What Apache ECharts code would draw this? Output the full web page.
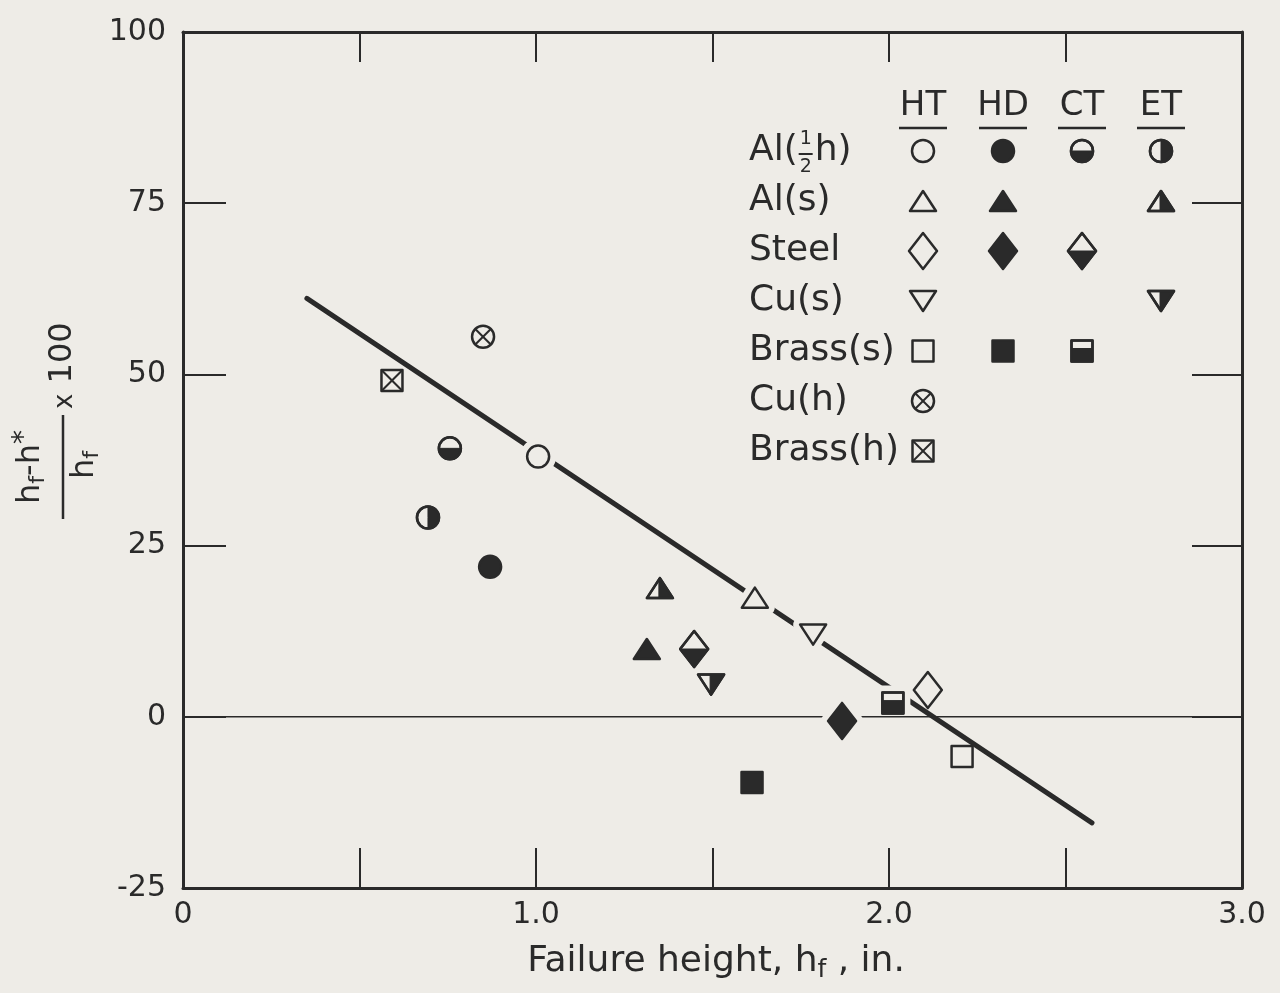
<!DOCTYPE html>
<html>
<head>
<meta charset="utf-8">
<title>Failure height</title>
<script src="https://cdn.jsdelivr.net/npm/echarts@6/dist/echarts.min.js"></script>
<style>
html, body { margin: 0; padding: 0; background: #eeece7; }
#chart { width: 1280px; height: 993px; }
</style>
</head>
<body>
<div id="chart"></div>
<script>
// legend rows (materials) and legend columns (test types)
var MATERIALS = ['Al(1/2h)', 'Al(s)', 'Steel', 'Cu(s)', 'Brass(s)', 'Cu(h)', 'Brass(h)'];
var TESTS = ['HT', 'HD', 'CT', 'ET'];

// [failure height hf (in.), (hf - h*)/hf x 100, material]
var HT_POINTS = [
    [1.006, 38.0, 'Al(1/2h)'],
    [1.620, 17.4, 'Al(s)'],
    [2.110, 3.9, 'Steel'],
    [1.785, 12.0, 'Cu(s)'],
    [2.207, -5.8, 'Brass(s)'],
    [0.850, 55.5, 'Cu(h)'],
    [0.592, 49.1, 'Brass(h)']
];
var HD_POINTS = [
    [0.870, 21.9, 'Al(1/2h)'],
    [1.314, 9.9, 'Al(s)'],
    [1.867, -0.6, 'Steel'],
    [1.612, -9.6, 'Brass(s)']
];
var CT_POINTS = [
    [0.756, 39.2, 'Al(1/2h)'],
    [1.448, 9.9, 'Steel'],
    [2.011, 2.0, 'Brass(s)']
];
var ET_POINTS = [
    [0.694, 29.1, 'Al(1/2h)'],
    [1.351, 18.8, 'Al(s)'],
    [1.496, 4.7, 'Cu(s)']
];
var FIT_LINE = [[0.351, 61.1], [2.575, -15.5]];
var ZERO_LINE = [[0, 0], [3, 0]];
var X_TICK_LABELS = { 0: '0', 1: '1.0', 2: '2.0', 3: '3.0' };

var INK = '#2a2a2a';
var PAPER = '#eeece7';
var FONT = 'DejaVu Sans';
// symbol shape of each material, same order as MATERIALS
var SHAPE = ['circle', 'triUp', 'diamond', 'triDown', 'square', 'circleX', 'squareX'];

var chart = echarts.init(document.getElementById('chart'));

function outline(kind, cx, cy) {
    switch (kind) {
        case 'circle':
        case 'circleX':
            return { type: 'circle', shape: { cx: cx, cy: cy, r: 11 } };
        case 'triUp':
            return { type: 'polygon', shape: { points: [[cx, cy - 10], [cx + 13, cy + 10], [cx - 13, cy + 10]] } };
        case 'triDown':
            return { type: 'polygon', shape: { points: [[cx - 13, cy - 10], [cx + 13, cy - 10], [cx, cy + 10]] } };
        case 'diamond':
            return { type: 'polygon', shape: { points: [[cx, cy - 18], [cx + 14, cy], [cx, cy + 18], [cx - 14, cy]] } };
        default:
            return { type: 'rect', shape: { x: cx - 10.5, y: cy - 10.5, width: 21, height: 21 } };
    }
}

// CT = lower half dark, ET = right half dark
function halfPart(kind, test, cx, cy) {
    if (test === 'CT') {
        if (kind === 'circle') return { type: 'sector', shape: { cx: cx, cy: cy, r: 11, r0: 0, startAngle: 0, endAngle: Math.PI } };
        if (kind === 'diamond') return { type: 'polygon', shape: { points: [[cx - 14, cy], [cx + 14, cy], [cx, cy + 18]] } };
        if (kind === 'square') return { type: 'rect', shape: { x: cx - 10.5, y: cy - 2.5, width: 21, height: 13 } };
    }
    if (test === 'ET') {
        if (kind === 'circle') return { type: 'sector', shape: { cx: cx, cy: cy, r: 11, r0: 0, startAngle: -Math.PI / 2, endAngle: Math.PI / 2 } };
        if (kind === 'triUp') return { type: 'polygon', shape: { points: [[cx - 1, cy - 10], [cx + 13, cy + 10], [cx - 1, cy + 10]] } };
        if (kind === 'triDown') return { type: 'polygon', shape: { points: [[cx - 1, cy - 10], [cx + 13, cy - 10], [cx - 1, cy + 10]] } };
    }
    return null;
}

function symbolParts(kind, test, cx, cy) {
    var out = [];
    var base = outline(kind, cx, cy);
    base.style = { fill: test === 'HD' ? INK : PAPER, stroke: INK, lineWidth: 2.5, lineJoin: 'round' };
    out.push(base);
    var half = halfPart(kind, test, cx, cy);
    if (half) {
        half.style = { fill: INK, stroke: INK, lineWidth: 1 };
        out.push(half);
        var edge = outline(kind, cx, cy);
        edge.style = { fill: null, stroke: INK, lineWidth: 2.5, lineJoin: 'round' };
        out.push(edge);
    }
    if (kind === 'circleX') {
        var k = 7.5;
        out.push({ type: 'line', shape: { x1: cx - k, y1: cy - k, x2: cx + k, y2: cy + k }, style: { stroke: INK, lineWidth: 2 } });
        out.push({ type: 'line', shape: { x1: cx - k, y1: cy + k, x2: cx + k, y2: cy - k }, style: { stroke: INK, lineWidth: 2 } });
    }
    if (kind === 'squareX') {
        var q = 10;
        out.push({ type: 'line', shape: { x1: cx - q, y1: cy - q, x2: cx + q, y2: cy + q }, style: { stroke: INK, lineWidth: 2 } });
        out.push({ type: 'line', shape: { x1: cx - q, y1: cy + q, x2: cx + q, y2: cy - q }, style: { stroke: INK, lineWidth: 2 } });
    }
    return out;
}

function toData(points) {
    return points.map(function (p) { return [p[0], p[1], MATERIALS.indexOf(p[2])]; });
}

function markerSeries(points, test) {
    return {
        type: 'custom',
        name: test,
        z: 5,
        data: toData(points),
        encode: { x: 0, y: 1 },
        renderItem: function (params, api) {
            var c = api.coord([api.value(0), api.value(1)]);
            return { type: 'group', children: symbolParts(SHAPE[api.value(2)], test, c[0], c[1]) };
        }
    };
}

function distToSegment(p, a, b) {
    var dx = b[0] - a[0], dy = b[1] - a[1];
    var t = ((p[0] - a[0]) * dx + (p[1] - a[1]) * dy) / (dx * dx + dy * dy);
    t = Math.max(0, Math.min(1, t));
    var x = a[0] + t * dx - p[0], y = a[1] + t * dy - p[1];
    return Math.sqrt(x * x + y * y);
}

// paper coloured gap round the marks that sit on a drawn line
function haloSeries(linePts, z) {
    var all = toData(HT_POINTS.concat(HD_POINTS, CT_POINTS, ET_POINTS));
    return {
        type: 'custom',
        z: z,
        silent: true,
        data: all,
        encode: { x: 0, y: 1 },
        renderItem: function (params, api) {
            var c = api.coord([api.value(0), api.value(1)]);
            var d = distToSegment(c, api.coord(linePts[0]), api.coord(linePts[1]));
            if (d > 12) return { type: 'group', children: [] };
            var o = outline(SHAPE[api.value(2)], c[0], c[1]);
            o.style = { fill: PAPER, stroke: PAPER, lineWidth: 14, lineJoin: 'round' };
            return o;
        }
    };
}

// text pieces laid one after another (for subscripts etc.)
var measureCtx = document.createElement('canvas').getContext('2d');
function fontOf(size) { return size + 'px "' + FONT + '"'; }
function textWidth(s, size) {
    measureCtx.font = fontOf(size);
    return measureCtx.measureText(s).width;
}
function textRun(parts, x, y, align) {
    var total = 0;
    parts.forEach(function (p) { total += textWidth(p[0], p[1]); });
    var cx = align === 'center' ? x - total / 2 : x;
    return parts.map(function (p) {
        var el = {
            type: 'text', x: cx, y: y + (p[2] || 0),
            style: { text: p[0], font: fontOf(p[1]), fill: INK, align: 'left', verticalAlign: 'middle' }
        };
        cx += textWidth(p[0], p[1]);
        return el;
    });
}

// legend table
var COL_X = [923, 1003, 1082, 1161];
var BY_TEST = { HT: HT_POINTS, HD: HD_POINTS, CT: CT_POINTS, ET: ET_POINTS };
var legendEls = [];
TESTS.forEach(function (t, j) {
    legendEls = legendEls.concat(textRun([[t, 34]], COL_X[j], 106, 'center'));
    legendEls.push({ type: 'line', shape: { x1: COL_X[j] - 24, y1: 128, x2: COL_X[j] + 24, y2: 128 }, style: { stroke: INK, lineWidth: 2.5 } });
});
MATERIALS.forEach(function (m, i) {
    var rowY = 151 + i * 50;
    if (m === 'Al(1/2h)') {
        legendEls = legendEls.concat(textRun([['Al(', 36]], 749, rowY, 'left'));
        var fx = 749 + textWidth('Al(', 36) + 1;
        legendEls = legendEls.concat(textRun([['1', 19]], fx + 7, rowY - 12, 'center'));
        legendEls.push({ type: 'line', shape: { x1: fx, y1: rowY + 3, x2: fx + 14, y2: rowY + 3 }, style: { stroke: INK, lineWidth: 2 } });
        legendEls = legendEls.concat(textRun([['2', 19]], fx + 7, rowY + 16, 'center'));
        legendEls = legendEls.concat(textRun([['h)', 36]], fx + 16, rowY, 'left'));
    } else {
        legendEls = legendEls.concat(textRun([[m, 36]], 749, rowY, 'left'));
    }
    TESTS.forEach(function (t, j) {
        var has = BY_TEST[t].some(function (p) { return p[2] === m; });
        if (has) legendEls = legendEls.concat(symbolParts(SHAPE[i], t, COL_X[j], rowY));
    });
});

// y axis title: (hf - h*)/hf x 100, turned to read upwards
var yTitle = [
    { type: 'line', shape: { x1: -52, y1: 0, x2: 52, y2: 0 }, style: { stroke: INK, lineWidth: 2.5 } }
].concat(
    textRun([['h', 32], ['f', 22, 7], ['-h', 32], ['*', 28, -6]], 0, -32, 'center'),
    textRun([['h', 32], ['f', 22, 7]], 2, 22, 'center'),
    textRun([['x', 26, 2], [' 100', 32]], 58, 0, 'left')
);

var xTitle = textRun([['Failure height, h', 36], ['f', 25, 8], [' , in.', 36]], 716, 962, 'center');

var option = {
    backgroundColor: PAPER,
    animation: false,
    textStyle: { fontFamily: FONT },
    grid: { left: 183, right: 38, top: 32, bottom: 105 },
    xAxis: [
        {
            type: 'value', min: 0, max: 3, interval: 0.5, position: 'bottom',
            axisLine: { show: true, onZero: false, lineStyle: { color: INK, width: 3 } },
            axisTick: { show: true, inside: true, length: 40, lineStyle: { color: INK, width: 2 } },
            axisLabel: {
                color: INK, fontSize: 30, fontFamily: FONT, margin: 12,
                formatter: function (v) { return X_TICK_LABELS[v] || ''; }
            },
            splitLine: { show: false }
        },
        {
            type: 'value', min: 0, max: 3, interval: 0.5, position: 'top',
            axisLine: { show: true, onZero: false, lineStyle: { color: INK, width: 3 } },
            axisTick: { show: true, inside: true, length: 30, lineStyle: { color: INK, width: 2 } },
            axisLabel: { show: false },
            splitLine: { show: false }
        }
    ],
    yAxis: [
        {
            type: 'value', min: -25, max: 100, interval: 25, position: 'left',
            axisLine: { show: true, onZero: false, lineStyle: { color: INK, width: 3 } },
            axisTick: { show: true, inside: true, length: 43, lineStyle: { color: INK, width: 2 } },
            axisLabel: { color: INK, fontSize: 30, fontFamily: FONT, margin: 17 },
            splitLine: { show: false }
        },
        {
            type: 'value', min: -25, max: 100, interval: 25, position: 'right',
            axisLine: { show: true, onZero: false, lineStyle: { color: INK, width: 3 } },
            axisTick: { show: true, inside: true, length: 50, lineStyle: { color: INK, width: 2 } },
            axisLabel: { show: false },
            splitLine: { show: false }
        }
    ],
    series: [
        {
            type: 'line', z: 1, data: FIT_LINE, showSymbol: false, silent: true,
            lineStyle: { color: INK, width: 5, cap: 'round' }
        },
        haloSeries(FIT_LINE, 2),
        {
            type: 'line', z: 3, data: ZERO_LINE, showSymbol: false, silent: true,
            lineStyle: { color: INK, width: 1.5 }
        },
        haloSeries(ZERO_LINE, 4),
        markerSeries(HT_POINTS, 'HT'),
        markerSeries(HD_POINTS, 'HD'),
        markerSeries(CT_POINTS, 'CT'),
        markerSeries(ET_POINTS, 'ET')
    ],
    graphic: [
        { type: 'group', z: 100, children: legendEls },
        { type: 'group', z: 100, x: 63, y: 467, rotation: Math.PI / 2, children: yTitle },
        { type: 'group', z: 100, children: xTitle }
    ]
};
chart.setOption(option);
</script>
</body>
</html>
